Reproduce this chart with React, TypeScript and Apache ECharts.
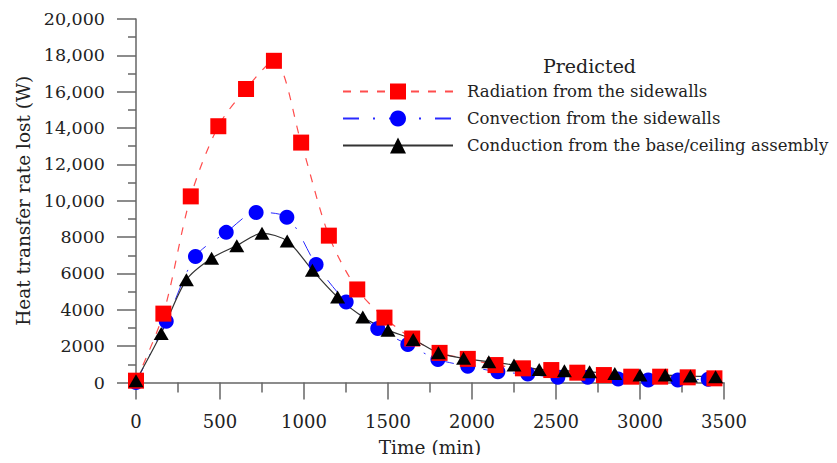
import React, { useEffect, useRef } from "react";
import * as echarts from "echarts";

// Radiation from the sidewalls (red squares)
const radX = [0, 163, 326, 490, 655, 821, 983, 1148, 1317, 1479, 1644, 1807, 1975, 2140, 2303, 2472, 2627, 2785, 2948, 3120, 3284, 3443];
const radY = [100, 3790, 10240, 14100, 16150, 17700, 13200, 8080, 5120, 3570, 2420, 1630, 1300, 960, 780, 685, 540, 410, 320, 320, 285, 230];

// Convection from the sidewalls (blue circles)
const convX = [0, 180, 354, 537, 715, 898, 1072, 1251, 1439, 1618, 1797, 1975, 2154, 2332, 2511, 2689, 2870, 3049, 3225, 3406];
const convY = [0, 3370, 6930, 8260, 9360, 9090, 6490, 4430, 2970, 2090, 1270, 900, 590, 465, 285, 285, 190, 137, 137, 175];

// Conduction from the base/ceiling assembly (black triangles)
const condX = [0, 150, 300, 450, 600, 750, 900, 1050, 1200, 1350, 1500, 1650, 1800, 1950, 2100, 2250, 2400, 2550, 2700, 2850, 3000, 3150, 3300, 3450];
const condY = [100, 2700, 5650, 6840, 7530, 8210, 7780, 6180, 4700, 3610, 2880, 2370, 1630, 1330, 1140, 960, 720, 650, 590, 500, 410, 410, 355, 320];

const seriesNames = [
  "Radiation from the sidewalls",
  "Convection from the sidewalls",
  "Conduction from the base/ceiling assembly",
];
const legendTitle = "Predicted";
const xName = "Time (min)";
const yName = "Heat transfer rate lost (W)";

const FONT = "DejaVu Serif";

function zip(xs: number[], ys: number[]) {
  return xs.map((x, i) => [x, ys[i]]);
}

export default function App() {
  const ref = useRef<HTMLDivElement>(null);
  useEffect(() => {
    if (!ref.current) return;
    const chart = echarts.init(ref.current, undefined, { renderer: "svg" });
    chart.setOption({
      animation: false,
      backgroundColor: "#ffffff",
      title: {
        text: legendTitle,
        left: 538,
        top: 51,
        textStyle: { fontFamily: FONT, fontSize: 19, fontWeight: "normal", color: "#222" },
      },
      legend: {
        data: seriesNames,
        orient: "vertical",
        left: 337,
        top: 78,
        itemWidth: 110,
        itemHeight: 20,
        itemGap: 10,
        textStyle: { fontFamily: FONT, fontSize: 16.5, color: "#222", padding: [0, 0, 0, 9] },
      },
      grid: {
        left: 136,
        right: 113,
        top: 19,
        bottom: 80.5,
        containLabel: false,
        outerBoundsMode: "none",
      },
      xAxis: {
        type: "value",
        min: 0,
        max: 3500,
        interval: 500,
        name: xName,
        nameLocation: "middle",
        nameGap: 55,
        nameTextStyle: { fontFamily: FONT, fontSize: 18.5, color: "#222" },
        axisLine: { show: true, lineStyle: { color: "#666", width: 1.5 } },
        axisTick: { show: true, inside: false, length: 17, lineStyle: { color: "#666", width: 1.5 } },
        minorTick: { show: true, splitNumber: 2, length: 10, lineStyle: { color: "#666", width: 1.5 } },
        axisLabel: {
          margin: 30,
          fontFamily: FONT,
          fontSize: 18,
          color: "#222",
          formatter: (v: number) => String(v),
        },
        splitLine: { show: false },
      },
      yAxis: {
        type: "value",
        min: 0,
        max: 20000,
        interval: 2000,
        name: yName,
        nameLocation: "middle",
        nameGap: 103,
        nameTextStyle: { fontFamily: FONT, fontSize: 18.5, color: "#222" },
        axisLine: { show: true, lineStyle: { color: "#666", width: 1.5 } },
        axisTick: { show: true, inside: false, length: 19, lineStyle: { color: "#666", width: 1.5 } },
        minorTick: { show: true, splitNumber: 2, length: 8, lineStyle: { color: "#666", width: 1.5 } },
        axisLabel: {
          margin: 31,
          fontFamily: FONT,
          fontSize: 17.5,
          color: "#222",
          formatter: (v: number) => (v >= 10000 ? v.toLocaleString("en-US") : String(v)),
        },
        splitLine: { show: false },
      },
      series: [
        {
          name: seriesNames[1],
          type: "line",
          data: zip(convX, convY),
          smooth: 0.3,
          symbol: "circle",
          symbolSize: 15,
          itemStyle: { color: "#0000ff" },
          lineStyle: { color: "#2a2aff", width: 1, type: [16, 14, 2, 14] },
        },
        {
          name: seriesNames[0],
          type: "line",
          data: zip(radX, radY),
          smooth: 0.3,
          symbol: "rect",
          symbolSize: 16,
          itemStyle: { color: "#ff0000" },
          lineStyle: { color: "#ff4d4d", width: 1.2, type: [8, 9] },
        },
        {
          name: seriesNames[2],
          type: "line",
          data: zip(condX, condY),
          smooth: 0.3,
          symbol: "triangle",
          symbolSize: [15, 13],
          itemStyle: { color: "#000000" },
          lineStyle: { color: "#333333", width: 1.2 },
        },
      ],
    });
    return () => chart.dispose();
  }, []);
  return <div ref={ref} style={{ width: 837, height: 463, margin: -8 }} />;
}
